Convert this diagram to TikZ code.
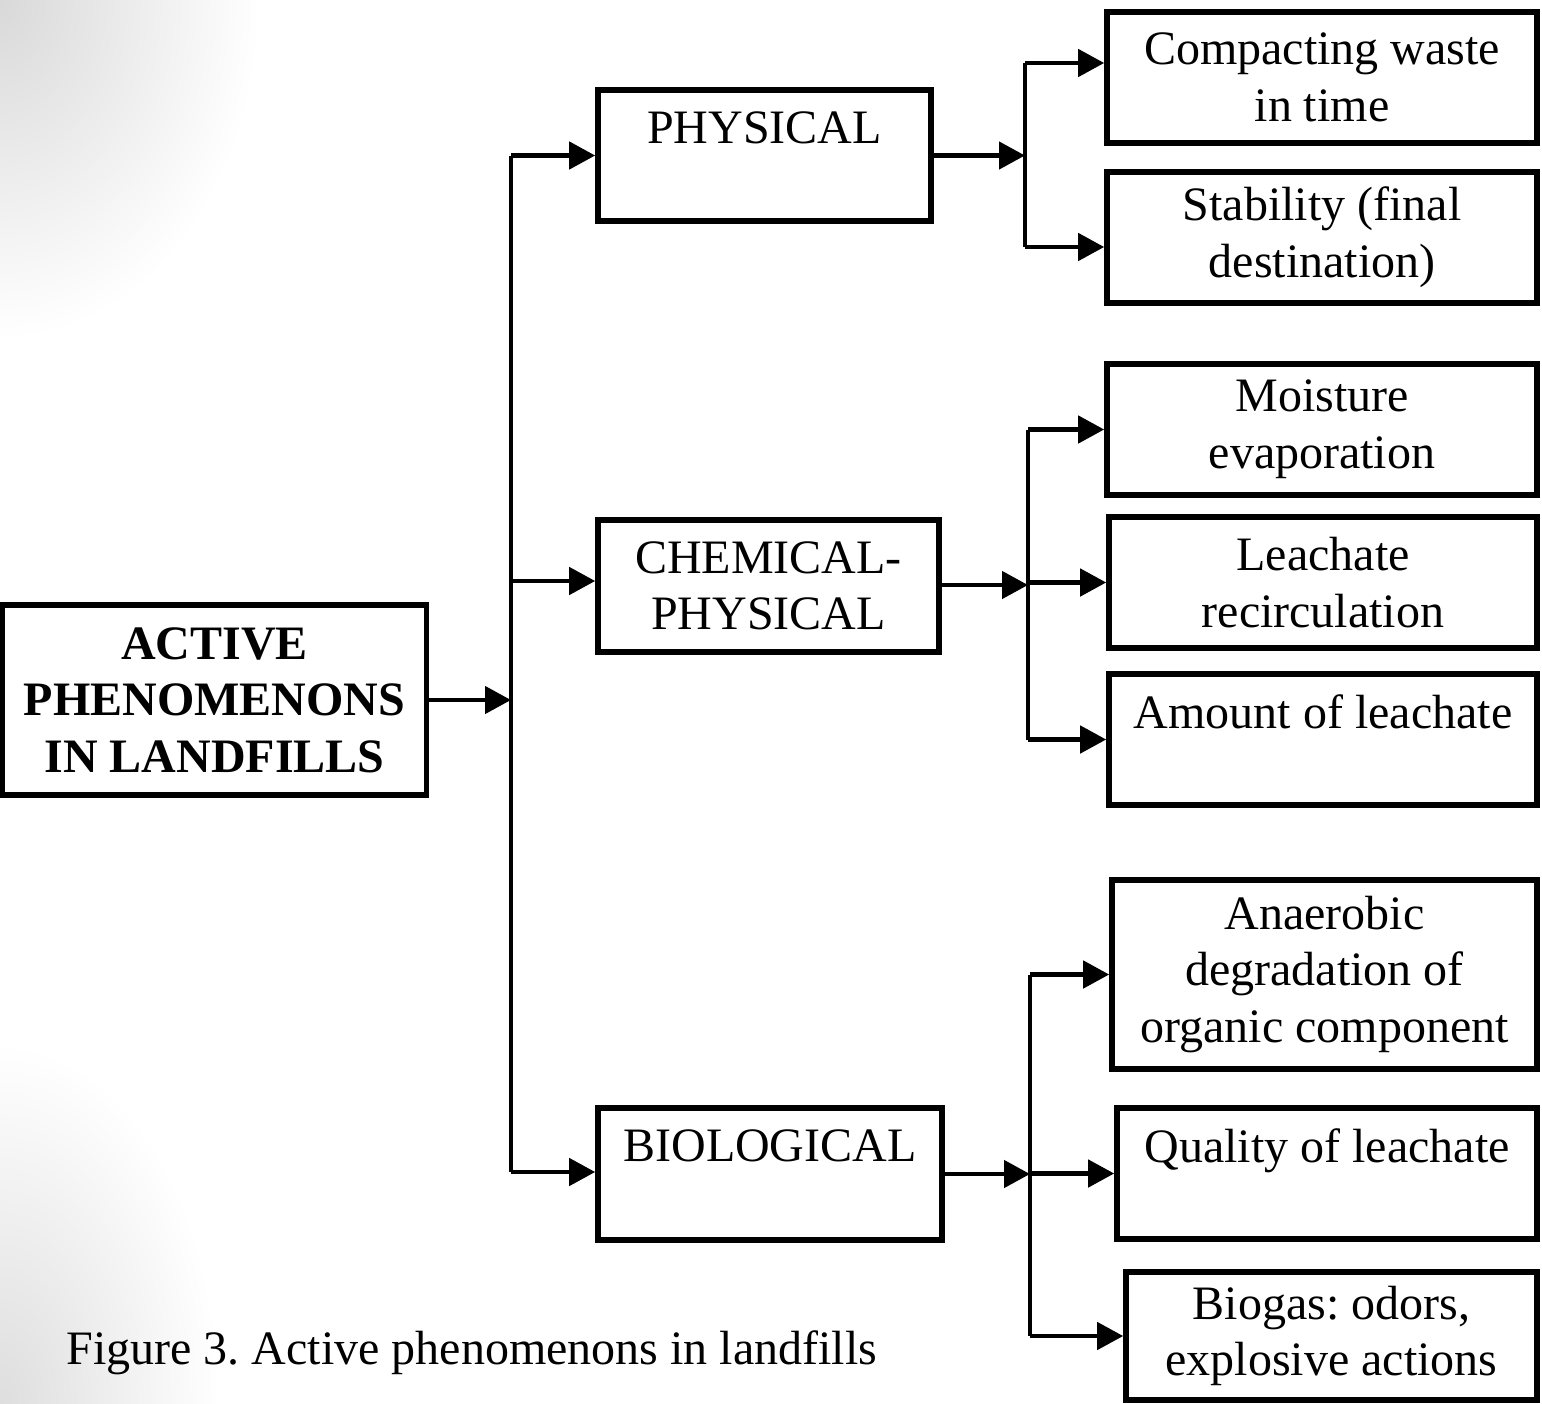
\documentclass[tikz,border=0pt]{standalone}
\usepackage{fontspec}
\setmainfont{Liberation Serif}
\usetikzlibrary{arrows.meta}
\frenchspacing
\begin{document}
\begin{tikzpicture}[x=0.5pt,y=-0.5pt,
  box/.style={draw=black,line width=2.8pt,align=center,inner sep=0pt,
    font=\fontsize{24}{28.3}\selectfont},
  conn/.style={line width=2.3pt},
  arr/.style={line width=2.3pt,-{Triangle[length=13pt,width=13.5pt]}},
  captionstyle/.style={inner sep=0pt,font=\fontsize{24}{28.3}\selectfont}
]
\useasboundingbox (0,0) rectangle (1542,1403);
% slide background shading
\begin{scope}
  \clip (0,0) rectangle (1542,1403);
  \shade[inner color=black!15,outer color=white] (0,0) ellipse (130pt and 170pt);
  \shade[inner color=black!13,outer color=white] (0,1403) ellipse (110pt and 180pt);
\end{scope}

% main box
\node[box,font=\fontsize{24}{28.3}\selectfont\bfseries,minimum width=212pt,minimum height=95pt] (main) at (214.5,700)
  {ACTIVE\\PHENOMENONS\\IN LANDFILLS};

% first level
\node[box,minimum width=166.5pt,minimum height=65.5pt] (phys) at (764.5,155.5) {PHYSICAL\\\mbox{}};
\node[box,minimum width=170.5pt,minimum height=66pt] (chem) at (768.5,586) {CHEMICAL-\\PHYSICAL};
\node[box,minimum width=172pt,minimum height=66pt] (bio) at (770,1174) {BIOLOGICAL\\\mbox{}};

% second level
\node[box,minimum width=215pt,minimum height=65.5pt] (comp) at (1322,77.5) {Compacting waste\\in time};
\node[box,minimum width=215pt,minimum height=65.5pt] (stab) at (1322,237.5) {Stability (final\\destination)};
\node[box,minimum width=215pt,minimum height=65.5pt] (moist) at (1322,429.5) {Moisture\\evaporation};
\node[box,minimum width=214pt,minimum height=65.5pt] (leach) at (1323,582.5) {Leachate\\recirculation};
\node[box,minimum width=214pt,minimum height=65.5pt] (amount) at (1323,739.5) {Amount of leachate\\\mbox{}};
\node[box,minimum width=212.5pt,minimum height=94.5pt] (anaer) at (1324.5,974.5) {Anaerobic\\degradation of\\organic component};
\node[box,minimum width=210pt,minimum height=65.5pt] (qual) at (1327,1173.5) {Quality of leachate\\\mbox{}};
\node[box,minimum width=205.5pt,minimum height=64pt] (biog) at (1331.5,1336) {Biogas: odors,\\explosive actions};

% caption
\node[captionstyle,anchor=base west] (cap) at (66,1364) {Figure 3. Active phenomenons in landfills};

% junction coordinates
\coordinate (j0) at (511,700);
\coordinate (t1) at (511,155.5);
\coordinate (t2) at (511,581);
\coordinate (t3) at (511,1172);

\coordinate (p0) at (1025,155.5);
\coordinate (p1) at (1025,63);
\coordinate (p2) at (1025,247);

\coordinate (c0) at (1028,585);
\coordinate (c1) at (1028,429.5);
\coordinate (c2) at (1028,582.5);
\coordinate (c3) at (1028,739.5);

\coordinate (b0) at (1030,1174);
\coordinate (b1) at (1030,974.5);
\coordinate (b2) at (1030,1173.5);
\coordinate (b3) at (1030,1336);

% main -> trunk
\draw[arr] (main.east) -- (j0);
\draw[conn] (t1) -- (t3);
\draw[arr] (t1) -- (phys.west);
\draw[arr] (t2) -- (t2 -| chem.west);
\draw[arr] (t3) -- (t3 -| bio.west);

% physical branch
\draw[arr] (phys.east) -- (p0);
\draw[conn] (p1) -- (p2);
\draw[arr] (p1) -- (p1 -| comp.west);
\draw[arr] (p2) -- (p2 -| stab.west);

% chemical branch
\draw[arr] (chem.east |- c0) -- (c0);
\draw[conn] (c1) -- (c3);
\draw[arr] (c1) -- (moist.west);
\draw[arr] (c2) -- (leach.west);
\draw[arr] (c3) -- (amount.west);

% biological branch
\draw[arr] (bio.east) -- (b0);
\draw[conn] (b1) -- (b3);
\draw[arr] (b1) -- (anaer.west);
\draw[arr] (b2) -- (qual.west);
\draw[arr] (b3) -- (biog.west);
\end{tikzpicture}
\end{document}
